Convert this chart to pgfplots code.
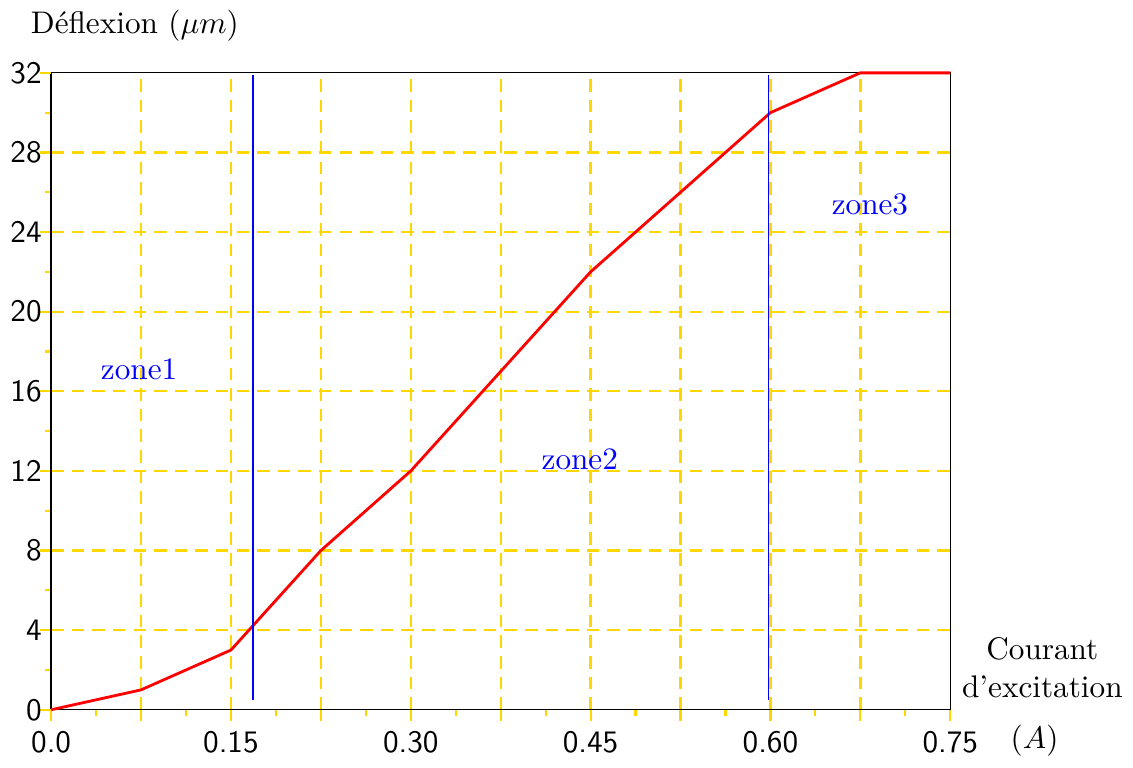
\documentclass[border=0pt]{standalone}
\usepackage{pgfplots}
\pgfplotsset{compat=1.18}
\definecolor{gridyel}{RGB}{255,215,0}
\begin{document}
\begin{tikzpicture}
\begin{axis}[
  scale only axis,
  width=288pt, height=204pt,
  xmin=0, xmax=0.75, ymin=0, ymax=32,
  xtick={0.075,0.15,0.225,0.3,0.375,0.45,0.525,0.6,0.675},
  xticklabels={,0.15,,0.30,,0.45,,0.60,},
  extra x ticks={0,0.75},
  extra x tick labels={0.0,0.75},
  ytick={4,8,...,28},
  extra y ticks={0,32},
  extra tick style={grid=none},
  minor xtick={0.0375,0.1125,0.1875,0.2625,0.3375,0.4125,0.4875,0.5625,0.6375,0.7125},
  minor ytick={2,6,...,30},
  tick align=outside,
  xtick pos=bottom, ytick pos=left,
  major tick length=3.5pt, minor tick length=2pt,
  tick style={gridyel, line width=0.7pt},
  xmajorgrids, ymajorgrids,
  major grid style={color=gridyel, dash pattern=on 4pt off 2.6pt, line width=0.75pt},
  ticklabel style={font=\sffamily},
  yticklabel style={xshift=4pt},
  /pgf/number format/assume math mode=true,
  axis line style={black, line width=0.4pt},
  clip=false,
]
\addplot[red, line width=0.9pt] coordinates {
(0,0) (0.075,1) (0.15,3) (0.225,8) (0.30,12) (0.45,22) (0.60,30) (0.675,32) (0.75,32)};
\addplot[blue, line width=0.45pt] coordinates {(0.1685,0.5) (0.1685,31.9)};
\addplot[blue, line width=0.45pt] coordinates {(0.5985,0.5) (0.5985,31.9)};
\node[blue] at (axis cs:0.0734,17.1) {zone1};
\node[blue] at (axis cs:0.441,12.6) {zone2};
\node[blue] at (axis cs:0.683,25.4) {zone3};
\node[anchor=west] at ([xshift=-10pt,yshift=15pt]rel axis cs:0,1) {D\'eflexion ($\mu m$)};
\node[align=center] at ([xshift=29.5pt,yshift=13.5pt]rel axis cs:1,0) {Courant\\d'excitation};
\node at ([xshift=27pt,yshift=-10pt]rel axis cs:1,0) {$(A)$};
\end{axis}
\end{tikzpicture}
\end{document}
